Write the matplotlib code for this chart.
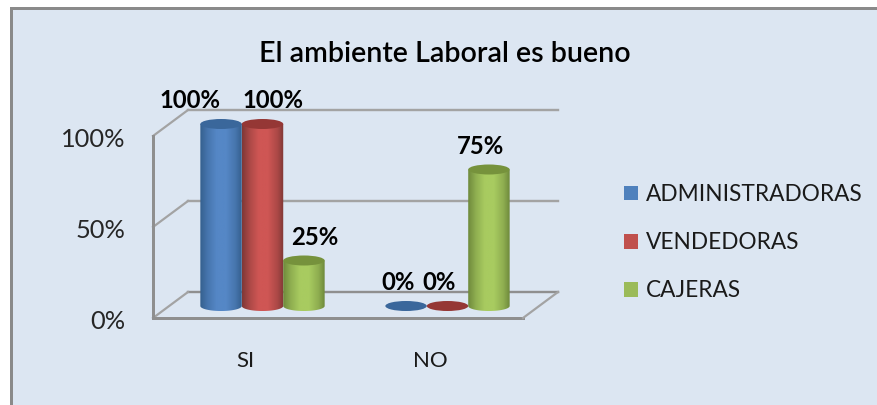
import numpy as np
import matplotlib
matplotlib.use('Agg')
import matplotlib.pyplot as plt
from matplotlib.colors import LinearSegmentedColormap
from matplotlib.patches import Ellipse, Patch, PathPatch, Rectangle
from matplotlib.path import Path
from matplotlib.transforms import Affine2D

categories = ['SI', 'NO']
series_names = ['ADMINISTRADORAS', 'VENDEDORAS', 'CAJERAS']
administradoras = [100, 0]
vendedoras = [100, 0]
cajeras = [25, 75]
yticks = [0, 50, 100]
ytick_labels = ['0%', '50%', '100%']

W, H = 877, 405
FONT = 'Lato'
bg = '#DCE6F2'

# colours: legend/centre, dark edge, top cap
colors = ['#4F81BD', '#C0504D', '#9BBB59']
centers = ['#5587C6', '#CF5654', '#A8CB60']
edges = ['#35608F', '#803836', '#6F8A3C']
caps = ['#3A679B', '#953735', '#76923C']

# label nudges in px, the original labels were moved by hand
label_nudge = [[-31, -8], [10, -8], [11, -8]]


def px(v):
    return v * 72 / 100


fig = plt.figure(figsize=(W / 100, H / 100), dpi=100, facecolor='white')

# chart area with grey border on left and top only
fig.add_artist(Rectangle((10 / W, 0), (W - 10) / W, (H - 7) / H, transform=fig.transFigure,
                         facecolor='#8A8A8A', edgecolor='none', zorder=-2))
fig.add_artist(Rectangle((13 / W, 0), (W - 13) / W, (H - 10) / H, transform=fig.transFigure,
                         facecolor=bg, edgecolor='none', zorder=-1))

# axes = front plane of the 3d box
left, right, top, bottom = 153, 523, 136, 318
ax = fig.add_axes([left / W, 1 - bottom / H, (right - left) / W, (bottom - top) / H])
ax.patch.set_alpha(0)
for s in ax.spines.values():
    s.set_visible(False)
ax.set_xlim(-0.5, 1.5)
ax.set_ylim(0, 100)

back = ax.transData + Affine2D().translate(35, 26)
mid = ax.transData + Affine2D().translate(17, 12)

# walls
wall_c = '#A3A3A3'
for t in yticks:
    c = '#8F8F8F' if t == 0 else wall_c
    ax.plot([-0.5, 1.5], [t, t], transform=back, color=c, lw=px(2.4), clip_on=False, zorder=1)
    bx = ax.transData.inverted().transform(back.transform((-0.5, t)))
    ax.plot([-0.5, bx[0]], [t, bx[1]], color=wall_c, lw=px(2.2), clip_on=False, zorder=1)
ax.plot([-0.5, -0.5], [0, 100], color='#8F8F8F', lw=px(3), clip_on=False, zorder=1)
ax.plot([-0.5, 1.5], [0, 0], color='#8F8F8F', lw=px(3), clip_on=False, zorder=1)
bx = ax.transData.inverted().transform(back.transform((1.5, 0)))
ax.plot([1.5, bx[0]], [0, bx[1]], color=wall_c, lw=px(2.2), clip_on=False, zorder=1)

# cylinders
bar_w = 0.224
cap_h = 5.5
shade = np.array([0, 0.18, 0.4, 0.62, 0.85, 1])
level = np.array([0, 0.55, 1, 1, 0.55, 0])
xs = np.linspace(0, 1, 64)
grad = np.interp(xs, shade, level)[None, :]

for i, vals in enumerate([administradoras, vendedoras, cajeras]):
    cmap = LinearSegmentedColormap.from_list('c', [edges[i], centers[i]])
    for j, v in enumerate(vals):
        xc = j + (i - 1) * bar_w
        x0, x1 = xc - bar_w / 2, xc + bar_w / 2
        if v > 0:
            th = np.linspace(np.pi, 2 * np.pi, 40)
            ex = xc + np.cos(th) * bar_w / 2
            ey = np.sin(th) * cap_h / 2
            verts = list(zip(ex, ey)) + [(x1, v), (x0, v), (x0, 0)]
            clip = PathPatch(Path(verts), transform=mid, facecolor='none', edgecolor='none')
            ax.add_patch(clip)
            im = ax.imshow(grad, extent=(x0, x1, -cap_h, v), aspect='auto', cmap=cmap,
                           vmin=0, vmax=1, transform=mid, zorder=3 + i, interpolation='bilinear')
            im.set_clip_path(clip)
            im.set_clip_box(fig.bbox)
        e = Ellipse((xc, v), bar_w, cap_h, transform=mid, facecolor=caps[i],
                    edgecolor='none', zorder=3 + i, clip_on=False)
        ax.add_patch(e)
        ax.annotate('%d%%' % v, (xc, v), xycoords=mid, xytext=(px(label_nudge[i][j]), px(23)),
                    textcoords='offset points', ha='center', va='center', family=FONT,
                    fontsize=17.2, fontweight='bold', color='black', zorder=10,
                    annotation_clip=False)
ax.set_xlim(-0.5, 1.5)
ax.set_ylim(0, 100)

ax.set_yticks(yticks)
ax.set_yticklabels(ytick_labels, family=FONT, fontsize=18.3, color='#262626')
ax.set_xticks(range(len(categories)))
ax.set_xticklabels(categories, family=FONT, fontsize=16, color='#1a1a1a')
ax.tick_params(axis='y', length=0, pad=px(28))
ax.tick_params(axis='x', length=0, pad=px(33))
for lab in ax.get_yticklabels():
    lab.set_transform(lab.get_transform() + Affine2D().translate(0, -1.5))

fig.text(444.5 / W, 1 - 53.5 / H, 'El ambiente Laboral es bueno', ha='center', va='center',
         family=FONT, fontsize=20.6, fontweight='semibold', color='black')

handles = [Patch(facecolor=c, edgecolor='none') for c in colors]
fig.legend(handles, series_names, loc='upper left', bbox_to_anchor=(624 / W, 1 - 184 / H),
           frameon=False, prop={'family': FONT, 'size': 16.3}, handlelength=0.63, handleheight=0.63,
           handletextpad=0.35, labelspacing=1.2, borderpad=0, borderaxespad=0, labelcolor='#1a1a1a')

fig.savefig('out.png', dpi=100, facecolor='white')
